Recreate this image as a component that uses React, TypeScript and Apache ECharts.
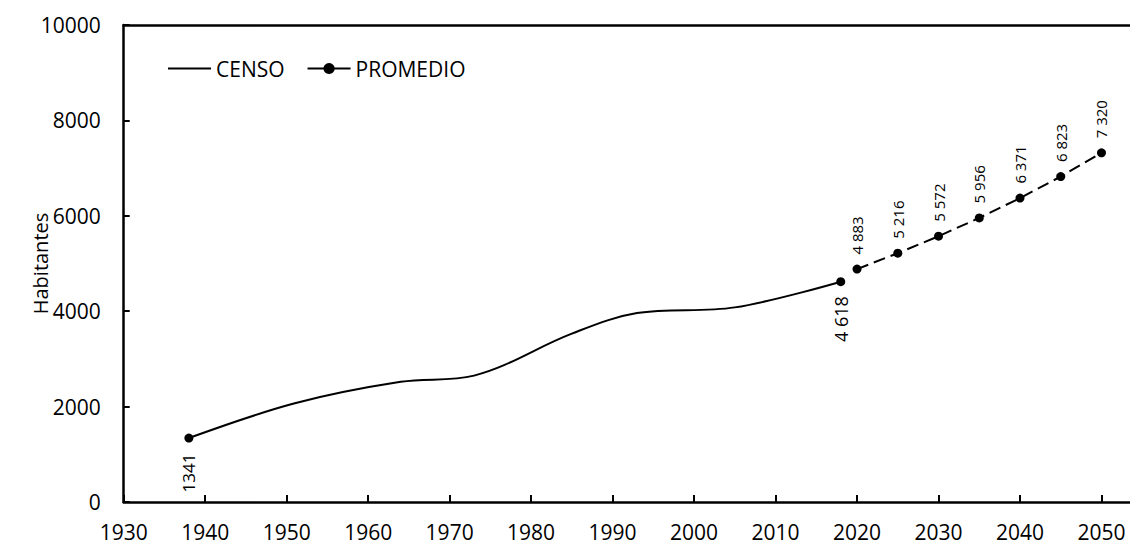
import React, { useEffect, useRef } from "react";
import * as echarts from "echarts";

const censoYears = [1938, 1951, 1964, 1973, 1985, 1993, 2005, 2018];
const censoValues = [1341, 2070, 2520, 2650, 3530, 3960, 4080, 4618];
const censoLabels = ["1341", "4 618"];

const promedioYears = [2020, 2025, 2030, 2035, 2040, 2045, 2050];
const promedioValues = [4883, 5216, 5572, 5956, 6371, 6823, 7320];
const promedioLabels = ["4 883", "5 216", "5 572", "5 956", "6 371", "6 823", "7 320"];

const xTicks = [1930, 1940, 1950, 1960, 1970, 1980, 1990, 2000, 2010, 2020, 2030, 2040, 2050];
const yTicks = [0, 2000, 4000, 6000, 8000, 10000];

const FONT = "Open Sans";

export default function App() {
  const ref = useRef<HTMLDivElement>(null);
  useEffect(() => {
    if (!ref.current) return;
    const chart = echarts.init(ref.current, undefined, { renderer: "svg" });
    const last = censoYears.length - 1;
    const endPoints = [
      {
        value: [censoYears[0], censoValues[0]],
        label: {
          show: true,
          position: "bottom",
          rotate: 90,
          align: "right",
          verticalAlign: "middle",
          distance: 11,
          fontSize: 17,
          color: "#000",
          formatter: () => censoLabels[0],
        },
      },
      {
        value: [censoYears[last], censoValues[last]],
        label: {
          show: true,
          position: "bottom",
          rotate: 90,
          align: "right",
          verticalAlign: "middle",
          distance: 10,
          fontSize: 18,
          color: "#000",
          formatter: () => censoLabels[1],
        },
      },
    ];
    chart.setOption({
      animation: false,
      textStyle: { fontFamily: FONT, color: "#000" },
      grid: { left: 123.7, right: 0, top: 25, bottom: 42, containLabel: false },
      legend: {
        left: 162,
        top: 53,
        itemWidth: 43,
        itemHeight: 14,
        itemGap: 22,
        textStyle: { fontFamily: FONT, fontSize: 21, color: "#000" },
        data: [
          { name: "CENSO", itemStyle: { opacity: 0 } },
          { name: "PROMEDIO", lineStyle: { type: "solid" } },
        ],
      },
      xAxis: [
        {
          type: "value",
          min: 1930,
          max: 2053.5,
          interval: 10,
          splitLine: { show: false },
          axisLine: { show: true, lineStyle: { color: "#000", width: 2.5 } },
          axisTick: {
            show: true,
            inside: true,
            length: 7,
            customValues: xTicks,
            lineStyle: { color: "#000", width: 2 },
          },
          axisLabel: {
            customValues: xTicks,
            margin: 19,
            fontSize: 21,
            fontFamily: FONT,
            color: "#000",
            formatter: (v: number) => (v % 10 === 0 ? String(v) : ""),
          },
        },
        {
          type: "value",
          position: "top",
          min: 1930,
          max: 2053.5,
          splitLine: { show: false },
          axisLine: { show: true, onZero: false, lineStyle: { color: "#000", width: 2.5 } },
          axisTick: { show: false },
          axisLabel: { show: false },
        },
      ],
      yAxis: {
        type: "value",
        min: 0,
        max: 10000,
        interval: 2000,
        name: "Habitantes",
        nameLocation: "middle",
        nameGap: 73,
        nameMoveOverlap: false,
        nameTextStyle: { fontFamily: FONT, fontSize: 20, color: "#000" },
        splitLine: { show: false },
        axisLine: { show: true, lineStyle: { color: "#000", width: 2.5 } },
        axisTick: { show: true, inside: true, length: 6, lineStyle: { color: "#000", width: 2 } },
        axisLabel: {
          margin: 23,
          fontSize: 21,
          fontFamily: FONT,
          color: "#000",
          customValues: yTicks,
          formatter: (v: number) => String(v),
        },
      },
      series: [
        {
          name: "CENSO",
          type: "line",
          xAxisIndex: 0,
          smooth: 0.35,
          symbol: "none",
          lineStyle: { color: "#000", width: 2 },
          itemStyle: { color: "#000" },
          data: censoYears.map((y, i) => [y, censoValues[i]]),
        },
        {
          name: "CENSO-puntos",
          type: "scatter",
          xAxisIndex: 0,
          symbol: "circle",
          symbolSize: 9,
          itemStyle: { color: "#000", opacity: 1 },
          label: { color: "#000", fontFamily: FONT },
          data: endPoints,
        },
        {
          name: "PROMEDIO",
          type: "line",
          xAxisIndex: 0,
          symbol: "circle",
          symbolSize: 9,
          showAllSymbol: true,
          lineStyle: { color: "#000", width: 2, type: [12, 6] },
          itemStyle: { color: "#000" },
          label: {
            show: true,
            position: "top",
            rotate: 90,
            align: "left",
            verticalAlign: "middle",
            distance: 10,
            fontSize: 15,
            color: "#000",
            fontFamily: FONT,
            formatter: (p: any) => promedioLabels[p.dataIndex],
          },
          data: promedioYears.map((y, i) => [y, promedioValues[i]]),
        },
      ],
    });
    return () => chart.dispose();
  }, []);
  return (
    <div
      ref={ref}
      style={{ position: "absolute", left: 0, top: 0, width: 1130, height: 544, background: "#fff" }}
    />
  );
}
